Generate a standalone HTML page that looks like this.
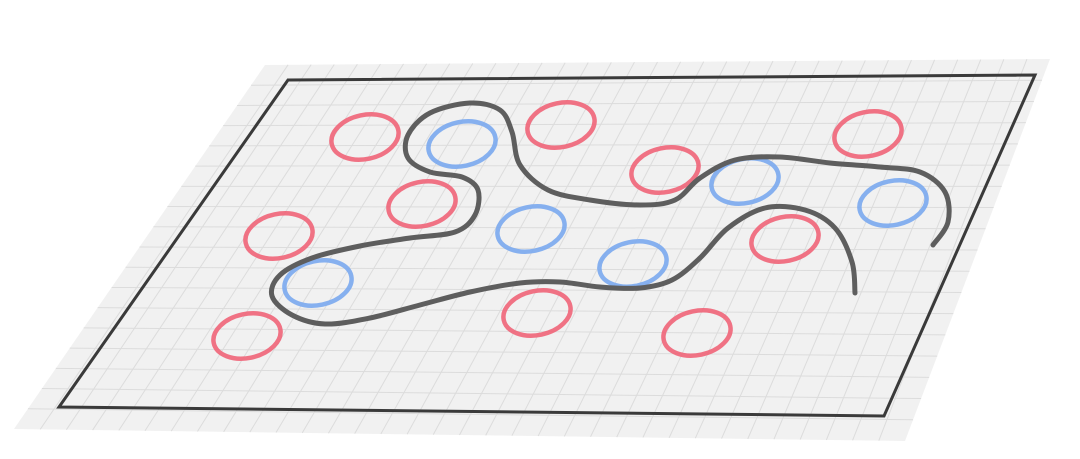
<!DOCTYPE html>
<html><head><meta charset="utf-8"><style>
html,body{margin:0;padding:0;background:#fff;width:1080px;height:459px;overflow:hidden}
svg{display:block}
</style></head><body>
<svg id="c" width="1080" height="459" viewBox="0 0 1080 459">
<g id="plane"></g>
<g id="marks"></g>
</svg>
<script>
// Data (in pixel space of the illustration)
const redX = [365,561,665,422,279,868,785,537,247,697];
const redY = [137,125,170,204,236,134,239,313,336,333];
const blueX = [462,745,531,633,318,893];
const blueY = [144,181,229,264,283,203];
const curveX = [855,852,835,805,765,728,700,672,640,600,560,520,470,420,370,325,292,272,280,312,360,410,455,475,478,462,430,408,408,430,470,500,512,520,548,590,640,675,700,735,780,830,880,920,945,948,933];
const curveY = [293,262,228,210,208,228,258,280,288,287,282,283,292,305,318,324,315,296,275,258,246,238,232,215,190,177,172,158,135,113,103,110,132,165,190,200,205,200,178,160,157,163,167,172,192,222,245];

const NS='http://www.w3.org/2000/svg';
function mk(tag,attrs,parent){const e=document.createElementNS(NS,tag);for(const k in attrs)e.setAttribute(k,attrs[k]);parent.appendChild(e);return e;}
const plane=document.getElementById('plane'), marks=document.getElementById('marks');
// quad mapping
const O={tl:[265,65],tr:[1050,59],br:[905,441],bl:[14,429]};
function quad(q,u,v){const top=[q.tl[0]+(q.tr[0]-q.tl[0])*u,q.tl[1]+(q.tr[1]-q.tl[1])*u];const bot=[q.bl[0]+(q.br[0]-q.bl[0])*u,q.bl[1]+(q.br[1]-q.bl[1])*u];return [top[0]+(bot[0]-top[0])*v,top[1]+(bot[1]-top[1])*v];}
const pts=q=>[q.tl,q.tr,q.br,q.bl].map(p=>p.join(',')).join(' ');
let bg=mk('polygon',{points:pts(O),fill:'#f1f1f1'},plane);


const NC=34,NR=18;
for(let i=1;i<NC;i++){const a=quad(O,i/NC,0),b=quad(O,i/NC,1);
 let l=mk('line',{x1:a[0],y1:a[1],x2:b[0],y2:b[1],stroke:'#dcdcdc','stroke-width':1},plane);
 
 }
for(let j=1;j<NR;j++){const a=quad(O,0,j/NR),b=quad(O,1,j/NR);
 let l=mk('line',{x1:a[0],y1:a[1],x2:b[0],y2:b[1],stroke:'#dcdcdc','stroke-width':1},plane);
 
 }
const I={tl:[288,80],tr:[1035,75],br:[884,416],bl:[59,407]};
let br=mk('polygon',{points:pts(I),fill:'none',stroke:'#3a3a3a','stroke-width':3},plane);



function ell(x,y,col,name){
 let e=mk('ellipse',{cx:x,cy:y,rx:34,ry:22,fill:'none',stroke:col,'stroke-width':4.5,transform:`rotate(-12 ${x} ${y})`,opacity:0.9},marks);
 
 
}
redX.forEach((x,i)=>ell(x,redY[i],'#f06478','red-class-ellipse'));
blueX.forEach((x,i)=>ell(x,blueY[i],'#7aa8ee','blue-class-ellipse'));

// Catmull-Rom curve
let d=`M${curveX[0]},${curveY[0]}`;
for(let i=0;i<curveX.length-1;i++){
 const p0=[curveX[Math.max(i-1,0)],curveY[Math.max(i-1,0)]],p1=[curveX[i],curveY[i]],p2=[curveX[i+1],curveY[i+1]],p3=[curveX[Math.min(i+2,curveX.length-1)],curveY[Math.min(i+2,curveX.length-1)]];
 const c1=[p1[0]+(p2[0]-p0[0])/6,p1[1]+(p2[1]-p0[1])/6],c2=[p2[0]-(p3[0]-p1[0])/6,p2[1]-(p3[1]-p1[1])/6];
 d+=` C${c1[0]},${c1[1]} ${c2[0]},${c2[1]} ${p2[0]},${p2[1]}`;
}
let cv=mk('path',{d:d,fill:'none',stroke:'#5e5e5e','stroke-width':5,'stroke-linecap':'round','stroke-linejoin':'round'},marks);


</script>
</body></html>
